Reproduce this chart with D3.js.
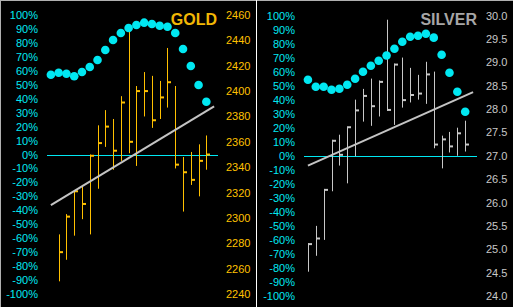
<!DOCTYPE html>
<html>
<head>
<meta charset="utf-8">
<script src="https://cdn.jsdelivr.net/npm/d3@7"></script>
<style>
  html, body { margin: 0; padding: 0; background: #000; }
  svg { display: block; }
</style>
</head>
<body>
<svg id="chart"></svg>
<script>
// tick labels
const pctTicks = [100, 90, 80, 70, 60, 50, 40, 30, 20, 10, 0, -10, -20, -30, -40, -50, -60, -70, -80, -90, -100]
const goldPriceTicks = [2460, 2440, 2420, 2400, 2380, 2360, 2340, 2320, 2300, 2280, 2260, 2240]
const silverPriceTicks = [30.0, 29.5, 29.0, 28.5, 28.0, 27.5, 27.0, 26.5, 26.0, 25.5, 25.0, 24.5, 24.0]

// gold: oscillator dots (%) and daily high / low / close (no bar on first day)
const goldPct = [57.2, 58.6, 57.9, 56.1, 59.1, 62.7, 67.7, 74.9, 82.1, 87.1, 90.7, 92.8, 94.5, 93.5, 92.3, 91.6, 87.1, 75.6, 63.4, 49.8, 37.8]
const goldHigh = [null, 2287, 2303, 2322, 2326, 2350, 2373, 2385, 2378, 2396, 2450, 2404, 2415, 2412, 2408, 2434, 2404, 2348, 2352, 2358, 2365]
const goldLow = [null, 2250, 2267, 2286, 2299, 2287, 2323, 2356, 2338, 2345, 2351, 2341, 2380, 2371, 2378, 2387, 2339, 2305, 2326, 2317, 2338]
const goldClose = [null, 2273, 2301, 2321, 2311, 2349, 2359, 2372, 2353, 2391, 2360, 2400, 2400, 2377, 2395, 2407, 2342, 2336, 2330, 2345, 2350]
const goldTrend = [2310, 2388]

// silver
const silverPct = [54.2, 49.2, 49.2, 47.1, 47.8, 50.6, 54.9, 59.9, 64.2, 67.7, 71.5, 76.3, 81.3, 84.8, 85.6, 87.0, 84.2, 72.0, 59.2, 45.6, 31.4]
const silverHigh = [25.13, 25.50, 26.29, 27.34, 27.45, 27.61, 28.20, 28.43, 28.65, 28.61, 29.91, 28.97, 29.10, 28.88, 28.73, 29.01, 28.80, 27.43, 27.51, 27.60, 27.75]
const silverLow = [24.52, 24.86, 25.20, 26.24, 26.79, 26.41, 26.99, 27.73, 27.64, 27.84, 27.96, 27.66, 28.03, 28.14, 28.20, 28.11, 27.16, 26.73, 27.07, 27.00, 27.09]
const silverClose = [25.11, 25.23, 26.27, 27.32, 27.02, 27.61, 27.97, 28.28, 28.06, 28.58, 27.98, 28.95, 28.19, 28.30, 28.33, 28.74, 27.24, 27.35, 27.20, 27.48, 27.24]
const silverTrend = [26.79, 28.36]

const width = 513
const height = 307
const font = 'Arial, "Liberation Sans", sans-serif'
const cyan = '#00e8f2'

const svg = d3.select('#chart')
    .attr('width', width)
    .attr('height', height)
    .style('background', '#000')

function drawPanel(p) {
    const n = p.pct.length
    const x = d3.scaleLinear().domain([-0.5, n + 0.5]).range(p.xRange)
    const yPct = d3.scaleLinear().domain([-100, 100]).range(p.yRange)
    const yPrice = d3.scaleLinear().domain(p.priceDomain).range(p.yRange)
    const px = i => Math.round(x(i)) + 0.5

    const g = svg.append('g')

    // left % axis
    const left = g.append('g')
        .attr('transform', `translate(${p.leftLabelX},0)`)
        .call(d3.axisLeft(yPct).tickValues(pctTicks).tickSize(0).tickPadding(0).tickFormat(d => d + '%'))
    left.select('.domain').remove()
    left.selectAll('text').attr('fill', cyan).style('font-family', font).style('font-size', '11px')

    // right price axis
    const right = g.append('g')
        .attr('transform', `translate(${p.rightLabelX},0)`)
        .call(d3.axisRight(yPrice).tickValues(p.priceTicks).tickSize(0).tickPadding(0).tickFormat(p.priceFormat))
    right.select('.domain').remove()
    right.selectAll('text').attr('fill', p.priceColor).style('font-family', font).style('font-size', '11px')

    // zero line
    g.append('line')
        .attr('x1', p.xRange[0]).attr('x2', p.xRange[1])
        .attr('y1', Math.round(yPct(0)) + 0.5).attr('y2', Math.round(yPct(0)) + 0.5)
        .attr('stroke', cyan).attr('stroke-width', 1)

    // high-low-close bars
    const bars = d3.range(n).filter(i => p.high[i] != null)
    g.selectAll('line.hl').data(bars).enter().append('line')
        .attr('class', 'hl')
        .attr('x1', px).attr('x2', px)
        .attr('y1', i => yPrice(p.high[i])).attr('y2', i => yPrice(p.low[i]))
        .attr('stroke', p.barColor).attr('stroke-width', 1)
    g.selectAll('line.cl').data(bars).enter().append('line')
        .attr('class', 'cl')
        .attr('x1', i => px(i) - 0.5).attr('x2', i => px(i) + 3.5)
        .attr('y1', i => yPrice(p.close[i])).attr('y2', i => yPrice(p.close[i]))
        .attr('stroke', p.barColor).attr('stroke-width', 2)

    // trend line
    g.append('line')
        .attr('x1', x(0)).attr('x2', x(n))
        .attr('y1', yPrice(p.trend[0])).attr('y2', yPrice(p.trend[1]))
        .attr('stroke', '#c4c4c4').attr('stroke-width', 2)

    // oscillator dots
    g.selectAll('circle').data(p.pct).enter().append('circle')
        .attr('cx', (d, i) => x(i))
        .attr('cy', d => yPct(d))
        .attr('r', 4.3)
        .attr('fill', cyan)

    // title
    g.append('text')
        .attr('x', p.titleX).attr('y', 25)
        .attr('text-anchor', 'end')
        .style('font-family', font).style('font-size', '16px').style('font-weight', 'bold')
        .attr('fill', p.titleColor)
        .text(p.title)
}

drawPanel({
    title: 'GOLD', titleColor: '#f2b705', titleX: 217,
    pct: goldPct, high: goldHigh, low: goldLow, close: goldClose, trend: goldTrend,
    priceDomain: [2240, 2460], priceTicks: goldPriceTicks, priceFormat: d3.format('d'),
    priceColor: '#ffc000', barColor: '#ffc000',
    xRange: [47, 218], yRange: [294, 15],
    leftLabelX: 38, rightLabelX: 226
})

drawPanel({
    title: 'SILVER', titleColor: '#a6a6a6', titleX: 477,
    pct: silverPct, high: silverHigh, low: silverLow, close: silverClose, trend: silverTrend,
    priceDomain: [24, 30], priceTicks: silverPriceTicks, priceFormat: d3.format('.1f'),
    priceColor: '#c8c8c8', barColor: '#c8c8c8',
    xRange: [304, 477], yRange: [296, 15.5],
    leftLabelX: 295, rightLabelX: 486
})

// frame and divider
svg.append('line').attr('x1', 0).attr('x2', width).attr('y1', 0.5).attr('y2', 0.5).attr('stroke', '#b0b0b0')
svg.append('line').attr('x1', 0.5).attr('x2', 0.5).attr('y1', 0).attr('y2', height).attr('stroke', '#b0b0b0')
svg.append('line').attr('x1', 256.5).attr('x2', 256.5).attr('y1', 0).attr('y2', height).attr('stroke', '#ffffff')
</script>
</body>
</html>
